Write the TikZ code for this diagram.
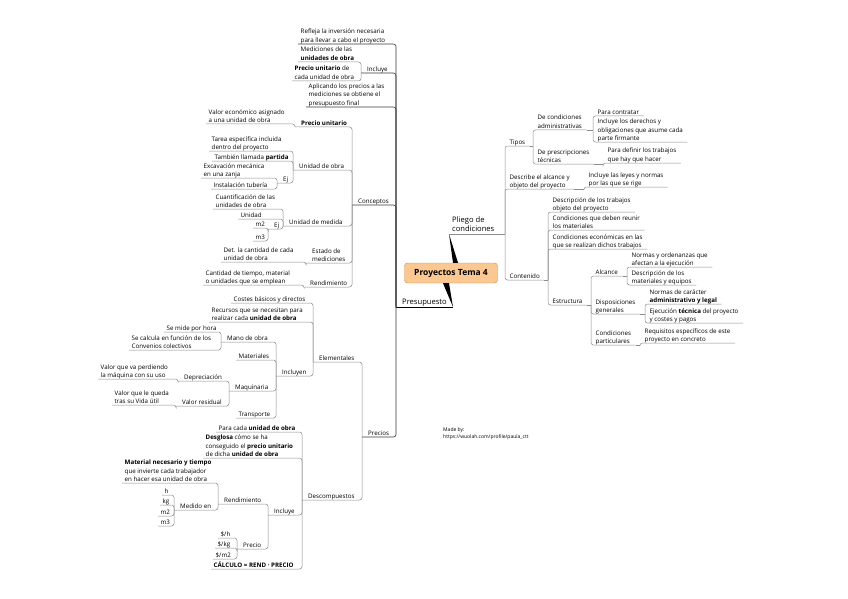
\documentclass[tikz,border=0pt]{standalone}
\usepackage{fontspec}
\setsansfont{Open Sans}
\usepackage{xcolor}
\definecolor{cpeach}{HTML}{FBC892}
\definecolor{cedge}{HTML}{C98D4E}
\definecolor{cline}{HTML}{8C8C8C}
\definecolor{cdark}{HTML}{3A3A3A}
\usepackage{tikz}
\usetikzlibrary{positioning,calc}

\begin{document}
\begin{tikzpicture}[x=1pt, y=-1pt, font=\sffamily\fontsize{6.2}{8.3}\selectfont,
  topic/.style={inner xsep=2.5pt, inner ysep=0.8pt, text depth=0.7pt, align=left, anchor=south west},
  hub/.style={topic, inner xsep=6pt},
  rtopic/.style={topic, inner xsep=4.5pt},
  branch/.style={topic, inner xsep=3pt, inner ysep=1.5pt, font=\sffamily\fontsize{7.6}{9}\selectfont},
  root/.style={draw=cedge, fill=cpeach, rounded corners=3pt, minimum width=93pt, minimum height=20pt, font=\sffamily\bfseries\fontsize{8.5}{10}\selectfont},
  link/.style={draw=cline, line width=0.5pt, rounded corners=2.5pt},
  mainlink/.style={link, draw=cdark, line width=0.6pt},
  note/.style={font=\sffamily\fontsize{5}{7}\selectfont, align=left, anchor=north west, inner sep=0pt}]
  \useasboundingbox (0,0) rectangle (848,599);

  % centre and the two main branches
  \node[root] (root) at (451,273) {Proyectos Tema 4};
  \node[branch] (pliego) at (449,234) {Pliego de\\condiciones};
  \node[branch, inner xsep=6pt] (presup) at (396,307) {Presupuesto};
  \fill[black] ([xshift=2pt]root.north) -- ([xshift=7pt]root.north) -- (pliego.south west) -- cycle;
  \fill[black] ([xshift=-8pt]root.south) -- ([xshift=-2pt]root.south) -- (presup.south east) -- cycle;
  \draw[link] (pliego.south west) -- (pliego.south east);
  \draw[mainlink, draw=black] (presup.south west) -- (presup.south east);

  % Presupuesto
  \node[topic] (refleja) at (298,44) {Refleja la inversión necesaria\\para llevar a cabo el proyecto};
  \node[hub] (incl) at (361,73) {Incluye};
  \node[topic] (medic) at (298,62) {Mediciones de las\\\textbf{unidades de obra}};
  \node[topic] (precu) at (292,81) {\textbf{Precio unitario} de\\cada unidad de obra};
  \node[topic] (aplic) at (306,107) {Aplicando los precios a las\\mediciones se obtiene el\\presupuesto final};
  \node[hub] (concep) at (352,205) {Conceptos};
  \node[hub] (precios) at (362,437) {Precios};

  % Conceptos
  \node[hub] (pu) at (295,127) {\textbf{Precio unitario}};
  \node[topic] (valor) at (206,124) {Valor económico asignado\\a una unidad de obra};
  \node[hub] (uo) at (293,170) {Unidad de obra};
  \node[topic] (tarea) at (209,151) {Tarea específica incluida\\dentro del proyecto};
  \node[topic] (tamb) at (212,161) {También llamada \textbf{partida}};
  \node[hub] (ej1) at (277,183) {Ej};
  \node[topic] (excav) at (201,178) {Excavación mecánica\\en una zanja};
  \node[topic] (instal) at (211,189) {Instalación tubería};
  \node[hub] (um) at (283,226) {Unidad de medida};
  \node[topic] (cuant) at (213,209) {Cuantificación de las\\unidades de obra};
  \node[topic] (unid) at (238,219) {Unidad};
  \node[hub] (ej2) at (268,229) {Ej};
  \node[topic] (m2a) at (253,228) {m2};
  \node[topic] (m3a) at (253,241) {m3};
  \node[hub] (estado) at (306,263) {Estado de\\mediciones};
  \node[topic] (det) at (221,262) {Det. la cantidad de cada\\unidad de obra};
  \node[hub] (rend) at (304,287) {Rendimiento};
  \node[topic] (cant) at (203,285) {Cantidad de tiempo, material\\o unidades que se emplean};

  % Precios
  \node[hub] (elem) at (313,362) {Elementales};
  \node[topic] (costes) at (231,303) {Costes básicos y directos};
  \node[topic] (recur) at (209,322) {Recursos que se necesitan para\\realizar cada \textbf{unidad de obra}};
  \node[hub] (incln) at (276,376) {Incluyen};
  \node[hub] (mano) at (221,342) {Mano de obra};
  \node[topic] (mide) at (164,332) {Se mide por hora};
  \node[topic] (calc) at (129,350) {Se calcula en función de los\\Convenios colectivos};
  \node[topic] (mater) at (236,360) {Materiales};
  \node[hub] (maqu) at (229,391) {Maquinaria};
  \node[hub] (depr) at (178,381) {Depreciación};
  \node[topic] (pierde) at (98,379) {Valor que va perdiendo\\la máquina con su uso};
  \node[hub] (resid) at (176,406) {Valor residual};
  \node[topic] (queda) at (112,405) {Valor que le queda\\tras su Vida útil};
  \node[topic] (transp) at (236,418) {Transporte};
  \node[hub] (descomp) at (302,500) {Descompuestos};
  \node[topic] (paracada) at (216,432) {Para cada \textbf{unidad de obra}};
  \node[topic] (desgl) at (203,458) {\textbf{Desglosa} cómo se ha\\conseguido el \textbf{precio unitario}\\de dicha \textbf{unidad de obra}};
  \node[hub] (inclb) at (268,515) {Incluye};
  \node[hub] (rendb) at (218,504) {Rendimiento};
  \node[topic] (matnec) at (122,483) {\textbf{Material necesario y tiempo}\\que invierte cada trabajador\\en hacer esa unidad de obra};
  \node[hub] (medido) at (174,510) {Medido en};
  \node[topic] (uh) at (162,495) {h};
  \node[topic] (ukg) at (160,505) {kg};
  \node[topic] (um2) at (158,516) {m2};
  \node[topic] (um3) at (158,526) {m3};
  \node[hub] (preciob) at (237,549) {Precio};
  \node[topic] (dh) at (218,538) {\$/h};
  \node[topic] (dkg) at (215,548) {\$/kg};
  \node[topic] (dm2) at (213,559) {\$/m2};
  \node[topic] (calculo) at (211,569) {\textbf{CÁLCULO = REND · PRECIO}};

  \foreach \c in {refleja,incl,aplic,concep,precios}
    \draw[mainlink] (\c.south west) -| (presup.south west);
  \foreach \p/\cs in {incl/{medic,precu}, concep/{pu,uo,um,estado,rend}, pu/{valor}, uo/{tarea,tamb,ej1},
      ej1/{excav,instal}, um/{cuant,unid,ej2}, ej2/{m2a,m3a}, estado/{det}, rend/{cant},
      precios/{elem,descomp}, elem/{costes,recur,incln}, incln/{mano,mater,maqu,transp}, mano/{mide,calc},
      maqu/{depr,resid}, depr/{pierde}, resid/{queda}, descomp/{paracada,desgl,inclb,calculo},
      inclb/{rendb,preciob}, rendb/{matnec,medido}, medido/{uh,ukg,um2,um3}, preciob/{dh,dkg,dm2}}
    \foreach \c in \cs
      \draw[link] (\c.south west) -| (\p.south west);

  % Pliego de condiciones
  \node[rtopic] (tipos) at (505,146) {Tipos};
  \node[rtopic] (admin) at (533,130) {De condiciones\\administrativas};
  \node[rtopic] (contr) at (593,116) {Para contratar};
  \node[rtopic] (dere) at (593,142) {Incluye los derechos y\\obligaciones que asume cada\\parte firmante};
  \node[rtopic] (presc) at (533,164) {De prescripciones\\técnicas};
  \node[rtopic] (defin) at (603,163) {Para definir los trabajos\\que hay que hacer};
  \node[rtopic] (descr) at (505,189) {Describe el alcance y\\objeto del proyecto};
  \node[rtopic] (leyes) at (584,187) {Incluye las leyes y normas\\por las que se rige};
  \node[rtopic] (conten) at (505,280) {Contenido};
  \node[rtopic] (desc2) at (548,212) {Descripción de los trabajos\\objeto del proyecto};
  \node[rtopic] (reun) at (548,230) {Condiciones que deben reunir\\los materiales};
  \node[rtopic] (econ) at (548,249) {Condiciones económicas en las\\que se realizan dichos trabajos};
  \node[rtopic] (estr) at (548,305) {Estructura};
  \node[rtopic] (alc) at (591,276) {Alcance};
  \node[rtopic] (norm) at (627,267) {Normas y ordenanzas que\\afectan a la ejecución};
  \node[rtopic] (mate) at (627,285) {Descripción de los\\materiales y equipos};
  \node[rtopic] (disp) at (591,314) {Disposiciones\\generales};
  \node[rtopic] (legal) at (645,304) {Normas de carácter\\\textbf{administrativo y legal}};
  \node[rtopic] (ejec) at (645,323) {Ejecución \textbf{técnica} del proyecto\\y costes y pagos};
  \node[rtopic] (part) at (591,345) {Condiciones\\particulares};
  \node[rtopic] (requ) at (640,343) {Requisitos específicos de este\\proyecto en concreto};

  \foreach \p/\cs in {pliego/{tipos,descr,conten}, tipos/{admin,presc}, admin/{contr,dere}, presc/{defin},
      descr/{leyes}, conten/{desc2,reun,econ,estr}, estr/{alc,disp,part}, alc/{norm,mate},
      disp/{legal,ejec}, part/{requ}}
    \foreach \c in \cs {
      \draw[link] (\p.south east) -- (\c.south west |- \p.south east);
      \draw[link] (\c.south west |- \p.south east) |- (\c.south east);
    }

  \node[note] (madeby) at (443,427) {Made by:\\https://wuolah.com/profile/paula\_ctt};
\end{tikzpicture}
\end{document}
